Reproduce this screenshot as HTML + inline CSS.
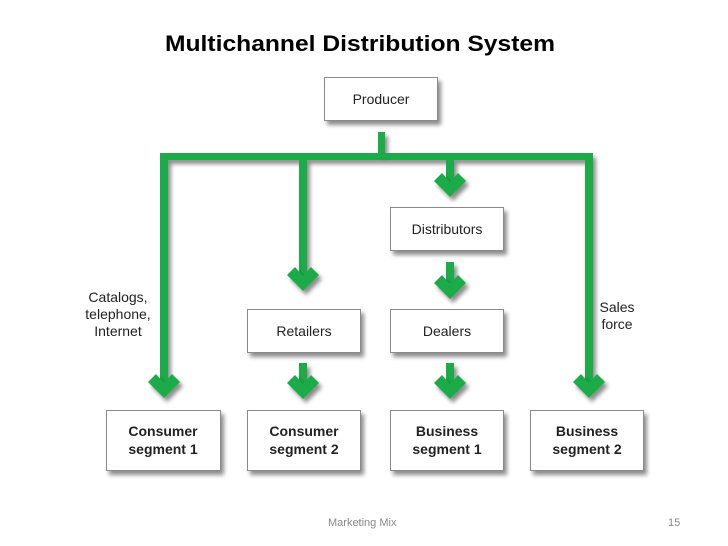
<!DOCTYPE html>
<html><head><meta charset="utf-8"><style>
html,body{margin:0;padding:0;background:#fff;}
svg{display:block;}
</style></head><body>
<svg width="728" height="546" viewBox="0 0 728 546" xmlns="http://www.w3.org/2000/svg">
<defs>
<filter id="sh" x="-20%" y="-20%" width="150%" height="160%">
<feGaussianBlur in="SourceAlpha" stdDeviation="2"/>
<feOffset dx="3" dy="4"/>
<feComponentTransfer><feFuncA type="linear" slope="0.45"/></feComponentTransfer>
<feMerge><feMergeNode/><feMergeNode in="SourceGraphic"/></feMerge>
</filter>
</defs>
<text x="165" y="51" font-family="Liberation Sans, sans-serif" font-weight="bold" font-size="22" textLength="390" lengthAdjust="spacingAndGlyphs" fill="#000">Multichannel Distribution System</text>

<g fill="#1eab48" stroke="none" filter="url(#sh)">
<rect x="378" y="132" width="7" height="26"/>
<rect x="160" y="153" width="432" height="7"/>
<rect x="160" y="153" width="8" height="230"/>
<rect x="299" y="153" width="8" height="125"/>
<rect x="446" y="153" width="8" height="32"/>
<rect x="585" y="153" width="8" height="230"/>
<rect x="446" y="262" width="8" height="24"/>
<rect x="299" y="363" width="8" height="24"/>
<rect x="446" y="363" width="8" height="24"/>
</g>
<g fill="#1eab48" filter="url(#sh)">
<polygon points="148,382 156,374 164,383 172,374 180,382 164,398"/>
<polygon points="287,275 295,267 303,276 311,267 319,275 303,291"/>
<polygon points="434,181 442,173 450,182 458,173 466,181 450,197"/>
<polygon points="434,283 442,275 450,284 458,275 466,283 450,299"/>
<polygon points="287,383 295,375 303,384 311,375 319,383 303,399"/>
<polygon points="434,383 442,375 450,384 458,375 466,383 450,399"/>
<polygon points="573,382 581,374 589,383 597,374 605,382 589,398"/>
</g>

<g fill="#fff" stroke="#8a8a8a" stroke-width="1" filter="url(#sh)">
<rect x="324.5" y="77.5" width="113" height="43"/>
<rect x="390.5" y="207.5" width="113" height="43"/>
<rect x="247.5" y="309.5" width="113" height="43"/>
<rect x="390.5" y="309.5" width="113" height="43"/>
<rect x="106.5" y="410.5" width="114" height="60"/>
<rect x="247.5" y="410.5" width="113" height="60"/>
<rect x="390.5" y="410.5" width="113" height="60"/>
<rect x="530.5" y="410.5" width="113" height="60"/>
</g>

<g font-family="Liberation Sans, sans-serif" font-size="14" fill="#222" text-anchor="middle">
<text x="381" y="104">Producer</text>
<text x="447" y="234">Distributors</text>
<text x="304" y="336">Retailers</text>
<text x="447" y="336">Dealers</text>
<text x="118" y="302">Catalogs,</text>
<text x="118" y="319">telephone,</text>
<text x="118" y="336">Internet</text>
<text x="617" y="312">Sales</text>
<text x="617" y="329">force</text>
</g>
<g font-family="Liberation Sans, sans-serif" font-size="14" font-weight="bold" fill="#222" text-anchor="middle">
<text x="163" y="436">Consumer</text>
<text x="163" y="454">segment 1</text>
<text x="304" y="436">Consumer</text>
<text x="304" y="454">segment 2</text>
<text x="447" y="436">Business</text>
<text x="447" y="454">segment 1</text>
<text x="587" y="436">Business</text>
<text x="587" y="454">segment 2</text>
</g>
<text x="328" y="526" font-family="Liberation Sans, sans-serif" font-size="11" fill="#888">Marketing Mix</text>
<text x="668" y="526" font-family="Liberation Sans, sans-serif" font-size="11" fill="#888">15</text>
</svg>
</body></html>
